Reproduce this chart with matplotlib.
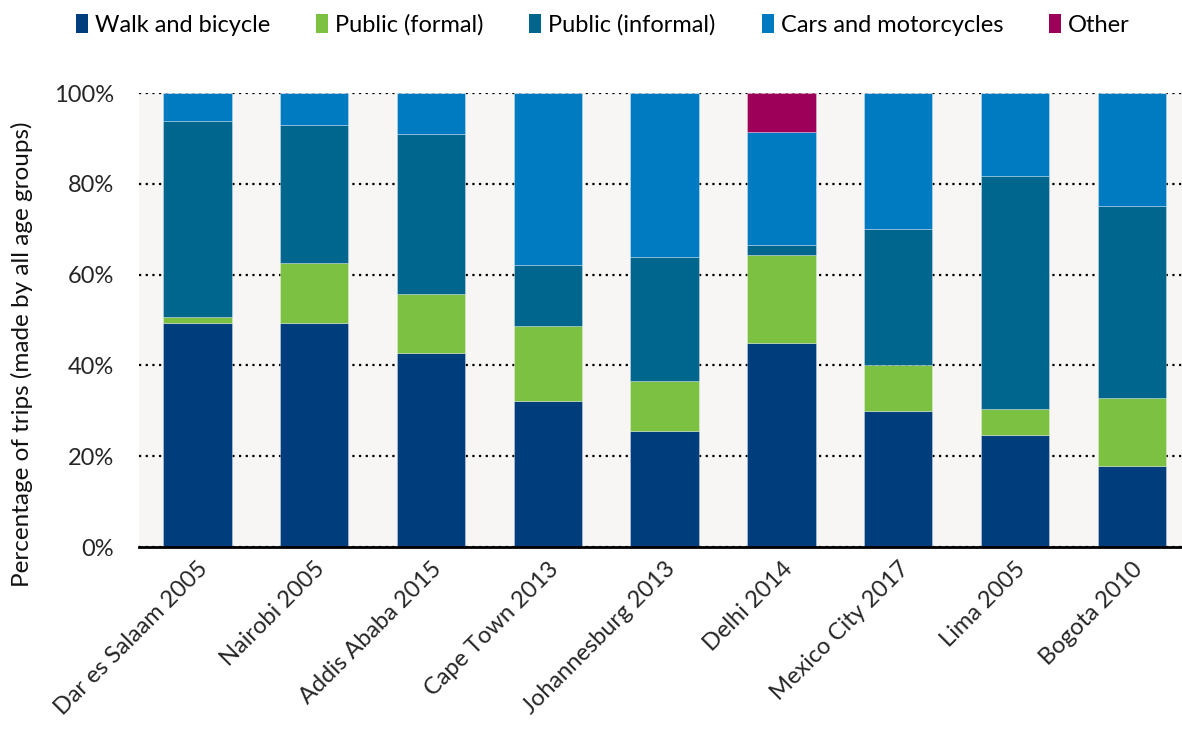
import matplotlib
matplotlib.use("Agg")
import matplotlib.pyplot as plt
from matplotlib.ticker import PercentFormatter
from matplotlib.patches import Patch
import numpy as np

cities = ["Dar es Salaam 2005", "Nairobi 2005", "Addis Ababa 2015", "Cape Town 2013",
          "Johannesburg 2013", "Delhi 2014", "Mexico City 2017", "Lima 2005", "Bogota 2010"]
walk = [49.4, 49.4, 42.7, 32.1, 25.6, 44.9, 29.9, 24.6, 17.9]
public_formal = [1.3, 13.1, 13.0, 16.5, 10.9, 19.5, 10.1, 5.8, 14.9]
public_informal = [43.2, 30.4, 35.3, 13.5, 27.3, 2.1, 30.0, 51.3, 42.3]
cars = [6.1, 7.1, 9.0, 37.9, 36.2, 25.0, 30.0, 18.3, 24.9]
other = [0, 0, 0, 0, 0, 8.5, 0, 0, 0]

series = [("Walk and bicycle", walk, "#003D7C"),
          ("Public (formal)", public_formal, "#7DC142"),
          ("Public (informal)", public_informal, "#00668E"),
          ("Cars and motorcycles", cars, "#007BC2"),
          ("Other", other, "#9C0058")]

FS = 17
plt.rcParams['font.family'] = ['Lato', 'DejaVu Sans']
fig = plt.figure(figsize=(11.82, 7.29), dpi=100)
ax = fig.add_axes([139/1182, 1 - 547/729, (1182-139)/1182, (547-93)/729])
ax.set_facecolor("#F7F6F4")

x = np.arange(len(cities))
bottom = np.zeros(len(cities))
for name, vals, col in series:
    v = np.array(vals)
    ax.bar(x, v, 0.585, bottom=bottom, color=col, edgecolor=(1, 1, 1, 0.35),
           linewidth=0.6, zorder=3, label=name)
    bottom += v

ax.set_ylim(0, 100)
ax.set_xlim(-0.5, (1182-139)/116.8 - 0.5)
ax.set_yticks([0, 20, 40, 60, 80, 100])
ax.yaxis.set_major_formatter(PercentFormatter(decimals=0))
ax.grid(axis='y', linestyle=(0, (1, 2.0)), color='black', linewidth=1.6, zorder=1)
ax.set_axisbelow(True)
for s in ['top', 'right', 'left']:
    ax.spines[s].set_visible(False)
ax.spines['bottom'].set_linewidth(2)
ax.spines['bottom'].set_zorder(4)
ax.tick_params(axis='both', length=0, labelsize=FS, colors='#262626')
ax.tick_params(axis='y', pad=18)
ax.tick_params(axis='x', pad=8)
ax.set_xticks(x)
ax.set_xticklabels(cities, rotation=45, ha='right', rotation_mode='anchor')
ax.set_ylabel("Percentage of trips (made by all age groups)", fontsize=17.5, color='#111111')
ax.yaxis.set_label_coords(-0.102, 0.425)

handles = [Patch(facecolor=c, label=n) for n, _, c in series]
fig.legend(handles=handles, loc='upper center', bbox_to_anchor=(0.51, 1.01), ncol=5,
           frameon=False, fontsize=FS, handlelength=0.5, handleheight=0.85,
           handletextpad=0.3, columnspacing=1.95)

fig.savefig("out.png", dpi=100)
